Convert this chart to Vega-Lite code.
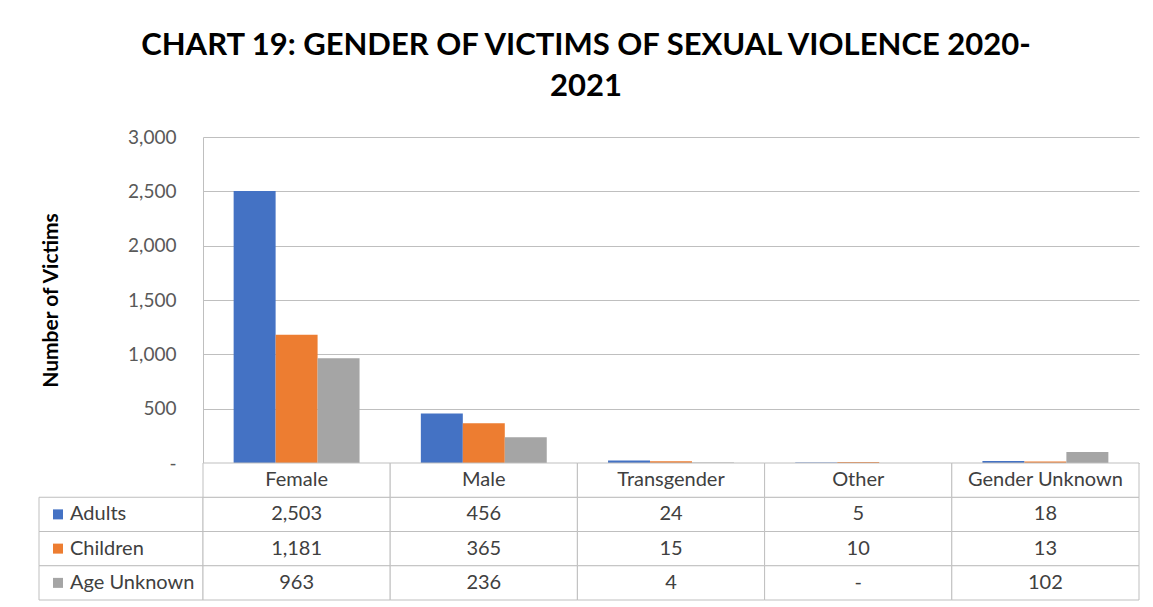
{
  "$schema": "https://vega.github.io/schema/vega-lite/v6.json",
  "padding": {"left": 38, "top": 30, "right": 15, "bottom": 6},
  "background": "white",
  "title": {
    "text": ["CHART 19: GENDER OF VICTIMS OF SEXUAL VIOLENCE 2020-", "2021"],
    "font": "Lato", "fontSize": 31, "fontWeight": "bold", "color": "#000000",
    "anchor": "middle", "lineHeight": 41, "offset": 25, "dx": -3
  },
  "datasets": {
    "victims": [
      {"gender": "Female", "series": "Adults", "value": 2503},
      {"gender": "Female", "series": "Children", "value": 1181},
      {"gender": "Female", "series": "Age Unknown", "value": 963},
      {"gender": "Male", "series": "Adults", "value": 456},
      {"gender": "Male", "series": "Children", "value": 365},
      {"gender": "Male", "series": "Age Unknown", "value": 236},
      {"gender": "Transgender", "series": "Adults", "value": 24},
      {"gender": "Transgender", "series": "Children", "value": 15},
      {"gender": "Transgender", "series": "Age Unknown", "value": 4},
      {"gender": "Other", "series": "Adults", "value": 5},
      {"gender": "Other", "series": "Children", "value": 10},
      {"gender": "Other", "series": "Age Unknown", "value": 0},
      {"gender": "Gender Unknown", "series": "Adults", "value": 18},
      {"gender": "Gender Unknown", "series": "Children", "value": 13},
      {"gender": "Gender Unknown", "series": "Age Unknown", "value": 102}
    ]
  },
  "columns": 2,
  "spacing": 0,
  "bounds": "flush",
  "config": {"view": {"stroke": null}, "font": "Lato"},
  "concat": [
    {
      "width": 164, "height": 326,
      "data": {"values": [{}]},
      "mark": {"type": "rect", "opacity": 0},
      "encoding": {}
    },
    {
      "width": 936, "height": 326,
      "data": {"name": "victims"},
      "mark": {"type": "bar"},
      "encoding": {
        "x": {"field": "gender", "type": "nominal", "sort": ["Female", "Male", "Transgender", "Other", "Gender Unknown"], "scale": {"paddingInner": 0, "paddingOuter": 0}, "axis": null},
        "xOffset": {"field": "series", "type": "nominal", "sort": ["Adults", "Children", "Age Unknown"], "scale": {"paddingInner": 0, "paddingOuter": 0.73}},
        "y": {
          "field": "value", "type": "quantitative",
          "scale": {"domain": [0, 3000], "nice": false},
          "axis": {
            "values": [0, 500, 1000, 1500, 2000, 2500, 3000],
            "labelExpr": "datum.value === 0 ? '-' : format(datum.value, ',')",
            "title": "Number of Victims",
            "titleFont": "Lato", "titleFontSize": 21, "titleFontWeight": "bold", "titleColor": "#000000",
            "titlePadding": 66,
            "labelFont": "Lato", "labelFontSize": 19, "labelColor": "#595959", "labelPadding": 27,
            "ticks": false, "domain": true, "domainColor": "#bfbfbf",
            "grid": true, "gridColor": "#bfbfbf"
          }
        },
        "color": {"field": "series", "type": "nominal", "scale": {"domain": ["Adults", "Children", "Age Unknown"], "range": ["#4472C4", "#ED7D31", "#A5A5A5"]}, "legend": null}
      }
    },
    {
      "width": 164, "height": 137,
      "data": {"name": "victims"},
      "transform": [{"filter": "datum.gender === 'Female'"}],
      "encoding": {
        "y": {"field": "series", "type": "nominal", "scale": {"domain": ["Gender", "Adults", "Children", "Age Unknown"], "paddingInner": 0, "paddingOuter": 0}, "axis": null}
      },
      "layer": [
        {"mark": {"type": "rect", "fill": "white", "stroke": "#bfbfbf", "strokeWidth": 1}},
        {"mark": {"type": "square", "size": 100, "filled": true, "opacity": 1}, "encoding": {"x": {"value": 19}, "color": {"field": "series", "type": "nominal", "scale": {"domain": ["Adults", "Children", "Age Unknown"], "range": ["#4472C4", "#ED7D31", "#A5A5A5"]}, "legend": null}}},
        {"mark": {"type": "text", "align": "left", "font": "Lato", "fontSize": 20, "color": "#404040"}, "encoding": {"x": {"value": 31}, "text": {"field": "series"}}}
      ]
    },
    {
      "width": 936, "height": 137,
      "data": {"name": "victims"},
      "encoding": {
        "x": {"field": "gender", "type": "nominal", "sort": ["Female", "Male", "Transgender", "Other", "Gender Unknown"], "scale": {"paddingInner": 0, "paddingOuter": 0}, "axis": null},
        "y": {"field": "series", "type": "nominal", "scale": {"domain": ["Gender", "Adults", "Children", "Age Unknown"], "paddingInner": 0, "paddingOuter": 0}, "axis": null}
      },
      "layer": [
        {"mark": {"type": "rect", "fill": "white", "stroke": "#bfbfbf", "strokeWidth": 1}},
        {
          "transform": [{"filter": "datum.series === 'Adults'"}, {"calculate": "'Gender'", "as": "series"}],
          "mark": {"type": "rect", "fill": "white", "stroke": "#bfbfbf", "strokeWidth": 1}
        },
        {
          "transform": [{"calculate": "datum.value === 0 ? '-' : format(datum.value, ',')", "as": "label"}],
          "mark": {"type": "text", "font": "Lato", "fontSize": 20, "color": "#404040"},
          "encoding": {"text": {"field": "label"}}
        },
        {
          "transform": [{"filter": "datum.series === 'Adults'"}, {"calculate": "'Gender'", "as": "series"}],
          "mark": {"type": "text", "font": "Lato", "fontSize": 20, "color": "#404040"},
          "encoding": {"text": {"field": "gender"}}
        }
      ]
    }
  ]
}
